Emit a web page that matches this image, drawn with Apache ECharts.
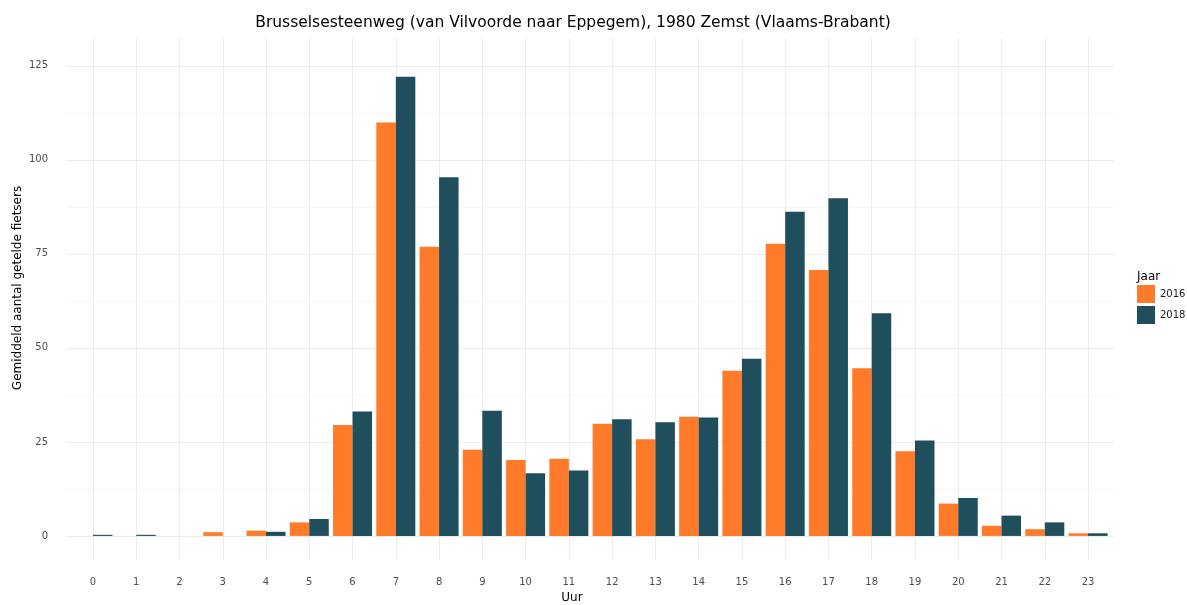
<!DOCTYPE html>
<html>
<head>
<meta charset="utf-8">
<script src="https://cdn.jsdelivr.net/npm/echarts@6/dist/echarts.min.js"></script>
<style>
  html, body { margin: 0; padding: 0; background: #ffffff; }
  #chart { width: 1187px; height: 605px; }
</style>
</head>
<body>
<div id="chart"></div>
<script>
// Hours of the day (x positions)
const hours = [0, 1, 2, 3, 4, 5, 6, 7, 8, 9, 10, 11, 12, 13, 14, 15, 16, 17, 18, 19, 20, 21, 22, 23];
// Average counted cyclists per hour
const counts2016 = [null, null, null, 1.0, 1.4, 3.6, 29.5, 109.9, 76.9, 22.9, 20.2, 20.5, 29.8, 25.7, 31.7, 43.9, 77.7, 70.7, 44.6, 22.5, 8.6, 2.7, 1.8, 0.7];
const counts2018 = [0.3, 0.3, null, null, 1.1, 4.5, 33.1, 122.1, 95.4, 33.3, 16.7, 17.4, 31.0, 30.2, 31.5, 47.1, 86.2, 89.8, 59.2, 25.4, 10.1, 5.4, 3.6, 0.7];
// Y axis ticks
const yMajorTicks = [0, 25, 50, 75, 100, 125];
const yMinorTicks = [12.5, 37.5, 62.5, 87.5, 112.5];

const FONT = 'DejaVu Sans';
const chart = echarts.init(document.getElementById('chart'), null, { renderer: 'canvas' });

chart.setOption({
  animation: false,
  backgroundColor: '#ffffff',
  textStyle: { fontFamily: FONT },
  grid: { left: 67, right: 73, top: 38, bottom: 45, containLabel: false },
  legend: {
    orient: 'vertical', left: 1137, top: 285, padding: 0,
    itemWidth: 18, itemHeight: 18, itemGap: 3,
    icon: 'rect',
    textStyle: { fontFamily: FONT, fontSize: 10, color: '#1a1a1a' },
    data: ['2016', '2018']
  },
  graphic: [
    { type: 'text', x: 573, y: 23,
      style: { text: 'Brusselsesteenweg (van Vilvoorde naar Eppegem), 1980 Zemst (Vlaams-Brabant)',
               font: '15.5px "DejaVu Sans"', fill: '#000000', align: 'center', verticalAlign: 'middle' } },
    { type: 'text', x: 1137, y: 277,
      style: { text: 'Jaar', font: '12px "DejaVu Sans"', fill: '#000000', align: 'left', verticalAlign: 'middle' } },
    { type: 'text', x: 572, y: 598,
      style: { text: 'Uur', font: '12px "DejaVu Sans"', fill: '#000000', align: 'center', verticalAlign: 'middle' } },
    { type: 'text', x: 18, y: 288, rotation: Math.PI / 2,
      style: { text: 'Gemiddeld aantal getelde fietsers', font: '12px "DejaVu Sans"', fill: '#000000', align: 'center', verticalAlign: 'middle' } }
  ],
  xAxis: {
    type: 'value', min: -0.6, max: 23.6,
    axisLine: { show: false },
    axisTick: { show: false, customValues: hours },
    axisLabel: { customValues: hours, color: '#4d4d4d', fontSize: 10, margin: 17, fontFamily: FONT },
    splitLine: { show: true, lineStyle: { color: '#ebebeb', width: 1 } }
  },
  yAxis: [
    {
      type: 'value', min: -6.4, max: 132.4,
      axisLine: { show: false },
      axisTick: { show: false, customValues: yMajorTicks },
      axisLabel: { customValues: yMajorTicks, color: '#4d4d4d', fontSize: 10, margin: 19, fontFamily: FONT },
      splitLine: { show: true, lineStyle: { color: '#ebebeb', width: 1 } }
    },
    {
      type: 'value', min: -6.4, max: 132.4, position: 'left',
      axisLine: { show: false },
      axisTick: { show: false, customValues: yMinorTicks },
      axisLabel: { show: false, customValues: yMinorTicks },
      splitLine: { show: true, lineStyle: { color: '#f6f6f6', width: 1 } }
    }
  ],
  series: [
    {
      name: '2016', type: 'bar', barWidth: 19.5, barGap: '0%',
      itemStyle: { color: '#ff7b2a' },
      data: hours.map((h, i) => [h, counts2016[i]])
    },
    {
      name: '2018', type: 'bar', barWidth: 19.5, barGap: '0%',
      itemStyle: { color: '#1f4e5c' },
      data: hours.map((h, i) => [h, counts2018[i]])
    }
  ]
});
</script>
</body>
</html>
